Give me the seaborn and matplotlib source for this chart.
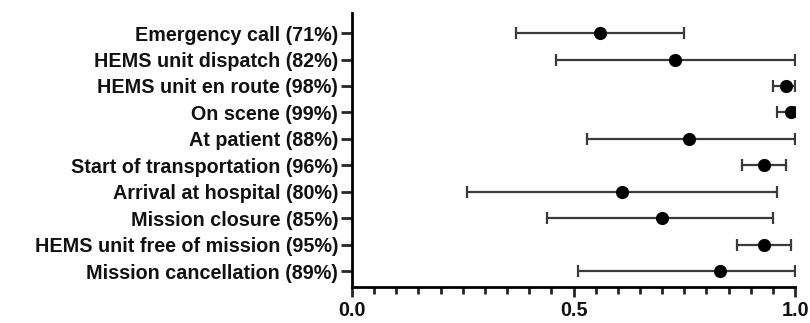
import numpy as np
import pandas as pd
import matplotlib.pyplot as plt
import seaborn as sns
from matplotlib.ticker import MultipleLocator

# Datos
etapas = ['Emergency call (71%)', 'HEMS unit dispatch (82%)', 'HEMS unit en route (98%)',
          'On scene (99%)', 'At patient (88%)', 'Start of transportation (96%)',
          'Arrival at hospital (80%)', 'Mission closure (85%)',
          'HEMS unit free of mission (95%)', 'Mission cancellation (89%)']
valor = [0.56, 0.73, 0.98, 0.99, 0.76, 0.93, 0.61, 0.70, 0.93, 0.83]
inferior = [0.37, 0.46, 0.95, 0.96, 0.53, 0.88, 0.26, 0.44, 0.87, 0.51]
superior = [0.75, 1.00, 1.00, 1.00, 1.00, 0.98, 0.96, 0.95, 0.99, 1.00]

df = pd.DataFrame({'Etapa': etapas, 'Valor': valor, 'Inf': inferior, 'Sup': superior})
df['pos'] = np.arange(len(df))

sns.set_style('ticks')
plt.rcParams['font.family'] = ['Liberation Sans', 'DejaVu Sans']
plt.rcParams['font.weight'] = 'bold'

fig = plt.figure(figsize=(8.1, 3.23), dpi=100)
ax = fig.add_axes([0.4346, 0.111, 0.547, 0.849])

# Barras de error (intervalos)
ax.errorbar(df['Valor'], df['pos'],
            xerr=[df['Valor'] - df['Inf'], df['Sup'] - df['Valor']],
            fmt='none', ecolor='#3a3a3a', elinewidth=1.6, capsize=4.5, capthick=1.6, zorder=2)

# Puntos
sns.scatterplot(data=df, x='Valor', y='pos', color='black', s=90, edgecolor='black',
                linewidth=0, zorder=3, ax=ax, legend=False)

ax.set_xlim(0, 1)
ax.set_ylim(9.6, -0.76)
ax.set_yticks(df['pos'])
ax.set_yticklabels(df['Etapa'], fontsize=14.2, fontweight='bold', color='#111111')
ax.set_xticks([0, 0.5, 1.0])
ax.set_xticklabels(['0.0', '0.5', '1.0'], fontsize=14.2, fontweight='bold', color='#111111')
ax.xaxis.set_minor_locator(MultipleLocator(0.05))
ax.set_xlabel('')
ax.set_ylabel('')

for s in ['top', 'right']:
    ax.spines[s].set_visible(False)
for s in ['left', 'bottom']:
    ax.spines[s].set_linewidth(2)
    ax.spines[s].set_color('black')
ax.tick_params(axis='x', which='major', length=7, width=2, pad=3)
ax.tick_params(axis='x', which='minor', length=5, width=2)
ax.tick_params(axis='y', which='major', length=8, width=2, pad=2)

fig.savefig('out.png', dpi=100, facecolor='white')
